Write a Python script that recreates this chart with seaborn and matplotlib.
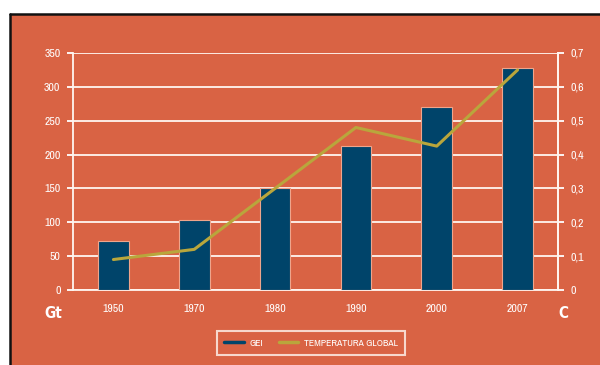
import matplotlib
matplotlib.use("Agg")
import matplotlib.pyplot as plt
from matplotlib import font_manager
from matplotlib.patches import Rectangle
from matplotlib.lines import Line2D
from matplotlib.ticker import FixedLocator, NullFormatter
import seaborn as sns
import pandas as pd
import numpy as np

years = ["1950", "1970", "1980", "1990", "2000", "2007"]
gei = [72, 103, 150, 213, 270, 328]
temperatura = [0.09, 0.12, 0.30, 0.48, 0.425, 0.65]
left_ticks = [0, 50, 100, 150, 200, 250, 300, 350]
right_ticks = [0, 0.1, 0.2, 0.3, 0.4, 0.5, 0.6, 0.7]
right_labels = ["0", "0,1", "0,2", "0,3", "0,4", "0,5", "0,6", "0,7"]

ORANGE = "#D96344"
NAVY = "#00446A"
OLIVE = "#B9A63C"
WHITE = "#FFF6F0"

# prefer a narrow face for the labels when one is installed
narrow = [f for f in font_manager.fontManager.ttflist
          if ("Narrow" in f.name or "Condensed" in f.name or f.stretch in ("condensed", "semi-condensed"))]
names = sorted({f.name for f in narrow})
FONT = ([names[0]] if names else []) + ["DejaVu Sans"]
STRETCH = "condensed"

sns.set_theme(style="white")
plt.rcParams["font.family"] = FONT
plt.rcParams["font.stretch"] = STRETCH

df = pd.DataFrame({"year": years, "gei": gei, "temp": temperatura})

fig = plt.figure(figsize=(6.0, 3.65), dpi=100, facecolor="white")
W, H = 600, 365
fig.patches.append(Rectangle((10 / W, 0), 1, 1 - 14 / H, transform=fig.transFigure,
                             facecolor=ORANGE, edgecolor="none", zorder=-10))
fig.lines.append(Line2D([9.5 / W, 1], [1 - 13.5 / H, 1 - 13.5 / H], transform=fig.transFigure,
                        color="#111111", lw=1.8))
fig.lines.append(Line2D([9.5 / W, 9.5 / W], [0, 1 - 13.5 / H], transform=fig.transFigure,
                        color="#111111", lw=1.8))

ax = fig.add_axes([73 / W, 1 - 290 / H, (558 - 73) / W, (290 - 53) / H])
ax.set_facecolor("none")

sns.barplot(data=df, x="year", y="gei", ax=ax, color=NAVY, width=0.38,
            edgecolor="#EFA58C", linewidth=0.8, saturation=1, zorder=3)
ax.set_xlim(-0.5, len(years) - 0.5)
ax.set_ylim(0, 350)
ax.set_yticks(left_ticks)
ax.set_yticklabels([str(v) for v in left_ticks])
ax.yaxis.grid(True, color=WHITE, lw=1.3, zorder=0)
ax.set_axisbelow(True)
ax.set_xlabel("")
ax.set_ylabel("")

ax.spines["top"].set_visible(False)
for side in ["left", "bottom", "right"]:
    ax.spines[side].set_color(WHITE)
    ax.spines[side].set_linewidth(1.3)

LS = 8.5
ax.tick_params(axis="y", colors="white", length=4, width=1.3, pad=5, labelsize=LS)
ax.tick_params(axis="x", which="major", length=0, pad=10, labelsize=LS, labelcolor="white")
ax.xaxis.set_minor_locator(FixedLocator(np.arange(0.5, len(years) - 1, 1.0)))
ax.xaxis.set_minor_formatter(NullFormatter())
ax.tick_params(axis="x", which="minor", direction="inout", length=9, width=1.3, color="white")

ax2 = ax.twinx()
sns.lineplot(x=years, y=temperatura, ax=ax2, color=OLIVE, lw=2.2, sort=False, zorder=4)
ax2.set_ylim(0, 0.7)
ax2.set_yticks(right_ticks)
ax2.set_yticklabels(right_labels)
ax2.tick_params(axis="y", colors="white", length=4, width=1.3, pad=5, labelsize=LS)
for side in ["top", "left", "bottom"]:
    ax2.spines[side].set_visible(False)
ax2.spines["right"].set_color(WHITE)
ax2.spines["right"].set_linewidth(1.3)
ax2.set_ylabel("")

for lab in ax.get_yticklabels() + ax.get_xticklabels() + ax2.get_yticklabels():
    lab.set_color("white")
    lab.set_family(FONT)
    lab.set_stretch(STRETCH)

# unit captions under each value axis
fig.text(53 / W, 1 - 314 / H, "Gt", color="white", fontsize=11, fontweight="bold",
         ha="center", va="center", family="DejaVu Sans")
fig.text(563 / W, 1 - 314 / H, "C", color="white", fontsize=11, fontweight="bold",
         ha="center", va="center", family="DejaVu Sans")

handles = [Line2D([], [], color=NAVY, lw=2.5), Line2D([], [], color=OLIVE, lw=2.5)]
leg = fig.legend(handles, ["GEI", "TEMPERATURA GLOBAL"], loc="center",
                 bbox_to_anchor=(311 / W, 1 - 343 / H), ncol=2, frameon=True,
                 handlelength=2.0, columnspacing=1.6, handletextpad=0.6,
                 borderpad=0.75, fancybox=False,
                 prop={"family": FONT, "size": 7, "stretch": STRETCH})
leg.get_frame().set_facecolor("none")
leg.get_frame().set_edgecolor(WHITE)
leg.get_frame().set_linewidth(1.5)
for t in leg.get_texts():
    t.set_color("white")

fig.savefig("out.png", dpi=100, facecolor="white")
